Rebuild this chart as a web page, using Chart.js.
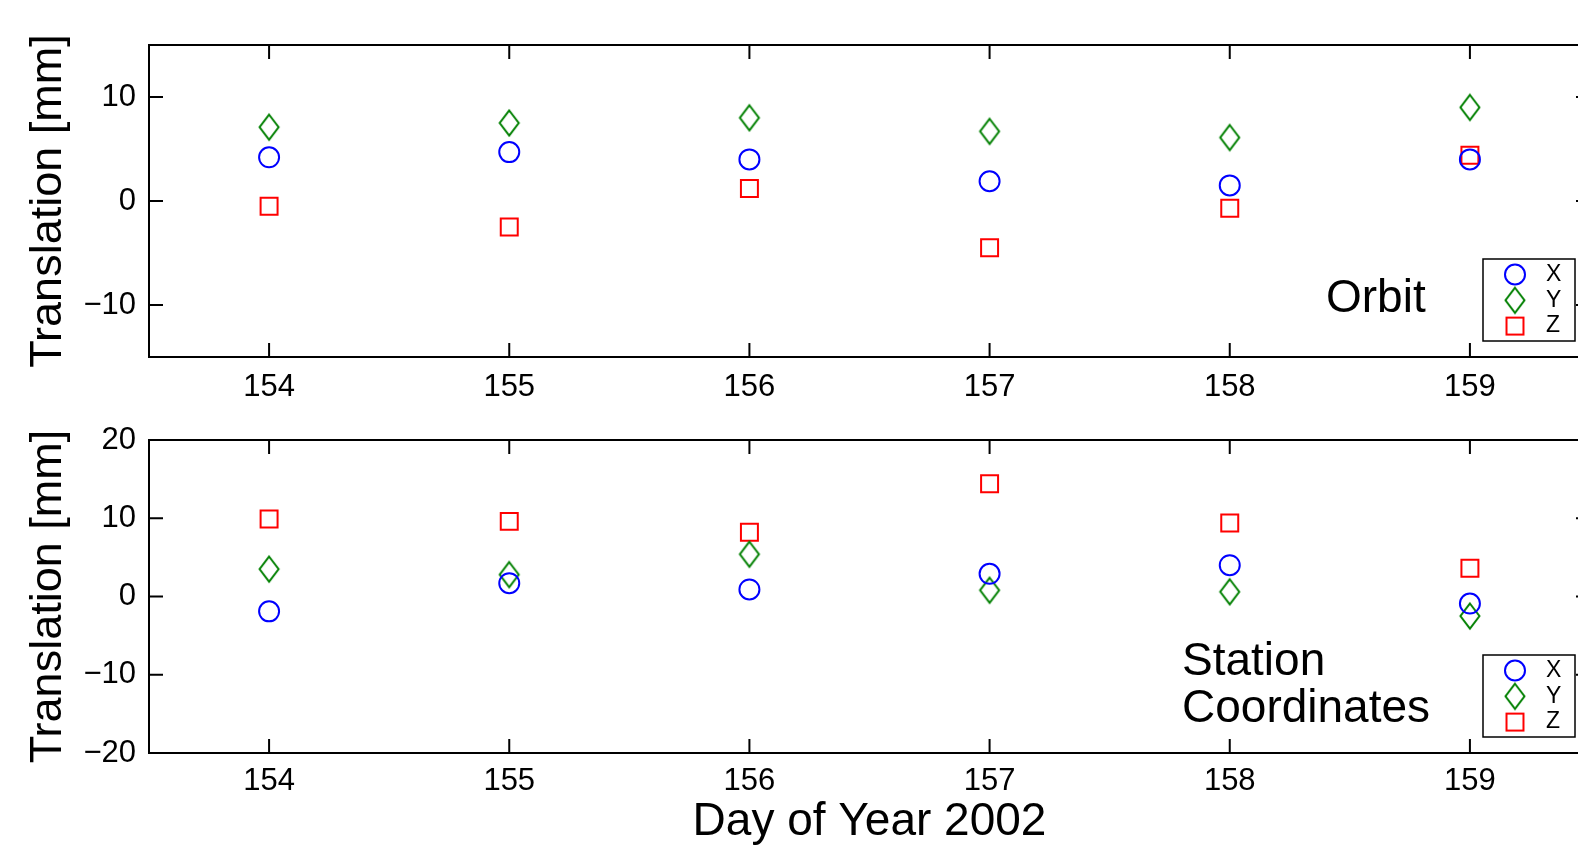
<!DOCTYPE html>
<html>
<head>
<meta charset="utf-8">
<script src="https://cdn.jsdelivr.net/npm/chart.js@4"></script>
<style>
html, body { margin: 0; padding: 0; background: #fff; overflow: hidden; width: 1578px; height: 846px; }
canvas { position: absolute; left: 0; }
#orbitChart { top: 0; }
#stationChart { top: 420px; }
</style>
</head>
<body>
<canvas id="orbitChart" width="1604" height="420"></canvas>
<canvas id="stationChart" width="1604" height="426"></canvas>
<script>
// valores (mm)
const days = [154, 155, 156, 157, 158, 159];
const orbitX = [4.2, 4.7, 4.0, 1.9, 1.5, 4.0];
const orbitY = [7.1, 7.5, 8.0, 6.7, 6.1, 9.0];
const orbitZ = [-0.5, -2.5, 1.2, -4.5, -0.7, 4.4];
const stationX = [-1.9, 1.7, 0.9, 2.9, 4.0, -0.9];
const stationY = [3.5, 2.8, 5.4, 0.8, 0.6, -2.5];
const stationZ = [9.9, 9.6, 8.2, 14.4, 9.4, 3.6];
const orbitTicks = [-10, 0, 10];
const stationTicks = [-20, -10, 0, 10, 20];

const FONT = '"Liberation Sans", Arial, Helvetica, sans-serif';
Chart.defaults.font.family = FONT;
Chart.defaults.color = '#000';

function makeDiamond(color) {
    const c = document.createElement('canvas');
    c.width = 24;
    c.height = 30;
    const g = c.getContext('2d');
    g.strokeStyle = color;
    g.lineWidth = 2;
    g.beginPath();
    g.moveTo(12, 2.5);
    g.lineTo(21.5, 15);
    g.lineTo(12, 27.5);
    g.lineTo(2.5, 15);
    g.closePath();
    g.stroke();
    return c;
}
const diamond = makeDiamond('#008000');

function montarSeries(xs, ys, zs) {
    const pts = vals => days.map((d, i) => ({ x: d, y: vals[i] }));
    return [
        { label: 'X', data: pts(xs), pointStyle: 'circle', pointRadius: 10, borderColor: '#0000ff', backgroundColor: 'rgba(0,0,0,0)', borderWidth: 2 },
        { label: 'Y', data: pts(ys), pointStyle: diamond, pointRadius: 12, borderColor: '#008000', backgroundColor: 'rgba(0,0,0,0)', borderWidth: 2 },
        { label: 'Z', data: pts(zs), pointStyle: 'rect', pointRadius: 12, borderColor: '#ff0000', backgroundColor: 'rgba(0,0,0,0)', borderWidth: 2 }
    ];
}

function desenharMarcador(ctx, ds, x, y) {
    ctx.strokeStyle = ds.borderColor;
    ctx.lineWidth = ds.borderWidth;
    if (ds.pointStyle === 'circle') {
        ctx.beginPath();
        ctx.arc(x, y, ds.pointRadius, 0, Math.PI * 2);
        ctx.stroke();
    } else if (ds.pointStyle === 'rect') {
        const s = ds.pointRadius * Math.SQRT1_2;
        ctx.strokeRect(x - s, y - s, 2 * s, 2 * s);
    } else {
        ctx.drawImage(ds.pointStyle, x - ds.pointStyle.width / 2, y - ds.pointStyle.height / 2);
    }
}

// moldura estilo matlab: caixa, ticks para dentro, texto e legenda
const moldura = {
    id: 'moldura',
    afterDraw(chart, args, opts) {
        const { ctx, chartArea: a, scales } = chart;
        ctx.save();
        ctx.strokeStyle = '#000';
        ctx.lineWidth = 2;
        ctx.strokeRect(a.left, a.top, a.right - a.left, a.bottom - a.top);
        ctx.beginPath();
        scales.x.ticks.forEach(t => {
            const px = scales.x.getPixelForValue(t.value);
            ctx.moveTo(px, a.bottom); ctx.lineTo(px, a.bottom - 14);
            ctx.moveTo(px, a.top); ctx.lineTo(px, a.top + 14);
        });
        scales.y.ticks.forEach(t => {
            const py = scales.y.getPixelForValue(t.value);
            ctx.moveTo(a.left, py); ctx.lineTo(a.left + 14, py);
            ctx.moveTo(a.right, py); ctx.lineTo(a.right - 14, py);
        });
        ctx.stroke();

        ctx.fillStyle = '#000';
        ctx.font = '46px ' + FONT;
        ctx.textAlign = 'left';
        ctx.textBaseline = 'alphabetic';
        opts.texto.forEach((s, i) => ctx.fillText(s, opts.x, opts.y + i * 47));

        const lw = 92, lh = 82;
        const lx = a.right - 15 - lw, ly = a.bottom - 16 - lh;
        ctx.fillStyle = '#fff';
        ctx.fillRect(lx, ly, lw, lh);
        ctx.lineWidth = 1.5;
        ctx.strokeStyle = '#000';
        ctx.strokeRect(lx, ly, lw, lh);
        chart.data.datasets.forEach((ds, i) => {
            const cy = ly + 15.5 + i * 25.8;
            desenharMarcador(ctx, ds, lx + 32, cy);
            ctx.fillStyle = '#000';
            ctx.font = '23px ' + FONT;
            ctx.textBaseline = 'middle';
            ctx.fillText(ds.label, lx + 63, cy);
        });
        ctx.restore();
    }
};

const menos = v => String(v).replace('-', '\u2212');

function criarGrafico(id, series, yTicks, yMin, yMax, alturaX, padTop, padLabelX, tituloX, texto) {
    return new Chart(document.getElementById(id), {
        type: 'scatter',
        data: { datasets: series },
        plugins: [moldura],
        options: {
            responsive: false,
            animation: false,
            events: [],
            layout: { padding: { top: padTop, right: 10, left: 0, bottom: 0 } },
            plugins: {
                legend: { display: false },
                tooltip: { enabled: false },
                moldura: texto
            },
            scales: {
                x: {
                    type: 'linear',
                    min: 153.5,
                    max: 159.5,
                    grid: { display: false, drawTicks: false },
                    border: { display: false },
                    afterBuildTicks: s => { s.ticks = days.map(v => ({ value: v })); },
                    afterFit: s => { s.height = alturaX; s.paddingLeft = 0; s.paddingRight = 0; },
                    ticks: { font: { size: 31 }, padding: padLabelX, maxRotation: 0, callback: v => String(v) },
                    title: {
                        display: !!tituloX,
                        text: tituloX,
                        font: { size: 46, lineHeight: 1 },
                        padding: { top: 0, bottom: 1 }
                    }
                },
                y: {
                    min: yMin,
                    max: yMax,
                    grid: { display: false, drawTicks: false },
                    border: { display: false },
                    afterBuildTicks: s => { s.ticks = yTicks.map(v => ({ value: v })); },
                    afterFit: s => { s.width = 149; s.paddingTop = 0; s.paddingBottom = 0; },
                    ticks: { font: { size: 31 }, padding: 13, callback: menos },
                    title: {
                        display: true,
                        text: 'Translation [mm]',
                        font: { size: 45, lineHeight: 1 },
                        padding: { top: 26, bottom: 0 }
                    }
                }
            }
        }
    });
}

criarGrafico('orbitChart', montarSeries(orbitX, orbitY, orbitZ), orbitTicks, -15, 15, 63, 45, 12, '',
    { texto: ['Orbit'], x: 1326, y: 312 });
criarGrafico('stationChart', montarSeries(stationX, stationY, stationZ), stationTicks, -20, 20, 93, 20, 10, 'Day of Year 2002',
    { texto: ['Station', 'Coordinates'], x: 1182, y: 255 });
</script>
</body>
</html>
